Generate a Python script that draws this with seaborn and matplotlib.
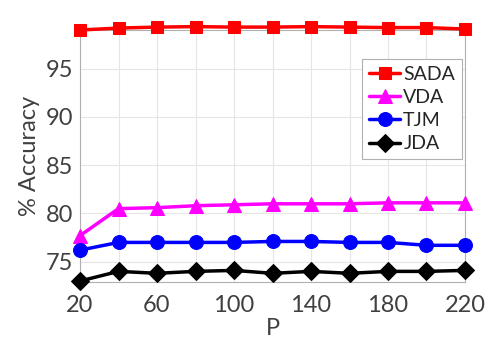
import matplotlib
matplotlib.use("Agg")
import matplotlib.pyplot as plt
import seaborn as sns
import pandas as pd
from matplotlib.ticker import MultipleLocator

P = [20, 40, 60, 80, 100, 120, 140, 160, 180, 200, 220]
SADA = [99.0, 99.2, 99.3, 99.35, 99.3, 99.3, 99.35, 99.3, 99.25, 99.25, 99.1]
VDA = [77.7, 80.5, 80.6, 80.8, 80.9, 81.0, 81.0, 81.0, 81.1, 81.1, 81.1]
TJM = [76.2, 77.0, 77.0, 77.0, 77.0, 77.1, 77.1, 77.0, 77.0, 76.7, 76.7]
JDA = [73.0, 74.0, 73.8, 74.0, 74.1, 73.8, 74.0, 73.8, 74.0, 74.0, 74.1]
methods = ["SADA", "VDA", "TJM", "JDA"]
series = [SADA, VDA, TJM, JDA]
xticks = [20, 60, 100, 140, 180, 220]
yticks = [75, 80, 85, 90, 95]

rows = []
for m, vals in zip(methods, series):
    for p, v in zip(P, vals):
        rows.append({"P": p, "acc": v, "method": m})
df = pd.DataFrame(rows)

sns.set_style("white")
plt.rcParams["font.family"] = ["Lato", "DejaVu Sans"]

fig = plt.figure(figsize=(4.88, 3.4), dpi=100)
ax = fig.add_axes([80/488, 1-282/340, 385/488, 252/340])

palette = {"SADA": "#ff0000", "VDA": "#ff00ff", "TJM": "#0000ff", "JDA": "#000000"}
markers = {"SADA": "s", "VDA": "^", "TJM": "o", "JDA": "D"}
sizes = {"SADA": 8, "VDA": 10, "TJM": 10, "JDA": 9}

for m in methods:
    sub = df[df.method == m]
    sns.lineplot(data=sub, x="P", y="acc", ax=ax, color=palette[m], marker=markers[m],
                 markersize=sizes[m], markeredgecolor=palette[m], linewidth=2.5,
                 label=m, clip_on=False, zorder=3)

ax.set_xlim(20, 220)
ax.set_ylim(72.9, 99)
ax.set_xticks(xticks)
ax.xaxis.set_minor_locator(MultipleLocator(20))
ax.set_yticks(yticks)
ax.grid(True, which="both", axis="x", color="#e6e6e6", linewidth=0.8)
ax.grid(True, which="major", axis="y", color="#e6e6e6", linewidth=0.8)
ax.tick_params(axis="both", labelsize=17, colors="#404040", length=0)
ax.tick_params(axis="x", pad=9)
ax.tick_params(axis="y", pad=5)
for s in ax.spines.values():
    s.set_color("#b0b0b0")
    s.set_linewidth(0.8)
ax.set_xlabel("P", fontsize=17, color="#404040", labelpad=1.5)
ax.set_ylabel("% Accuracy", fontsize=17, color="#404040", labelpad=4)

leg = ax.legend(loc="upper right", bbox_to_anchor=(0.992, 0.885), fontsize=14,
                handlelength=1.6, handletextpad=0.15, labelspacing=0.32,
                borderpad=0.35, borderaxespad=0, fancybox=False, framealpha=1,
                edgecolor="#b0b0b0")
leg.get_frame().set_linewidth(0.8)

fig.savefig("out.png", dpi=100)
